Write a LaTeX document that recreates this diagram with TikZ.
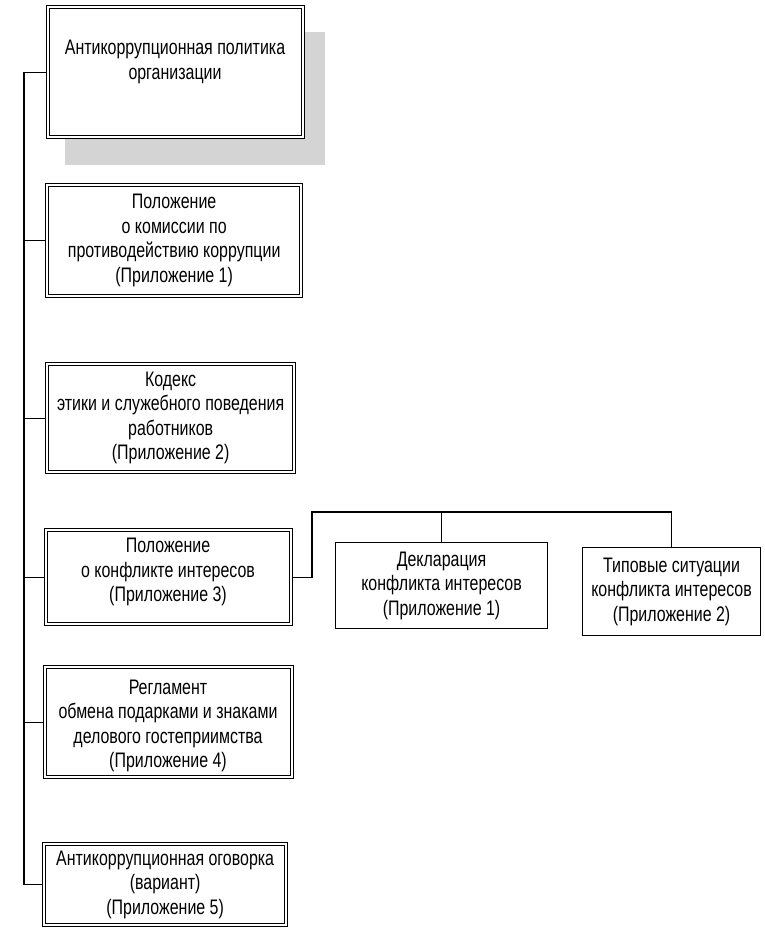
\documentclass[tikz,border=0pt]{standalone}
\usepackage{fontspec}
\setmainfont[FakeStretch=0.76]{Liberation Sans}
\tikzset{
  dbox/.style={draw=black, line width=1.3pt, fill=white, anchor=north west, inner sep=0pt, align=center},
  sbox/.style={draw=black, line width=1.1pt, fill=white, anchor=north west, inner sep=0pt, align=center},
  inner/.style={draw=black, line width=0.9pt},
  txt/.style={align=center, inner sep=0pt, font=\fontsize{21}{24.5}\selectfont},
  conn/.style={draw=black, line width=1.1pt}
}
\begin{document}
\begin{tikzpicture}[x=1pt,y=-1pt]
\useasboundingbox (0,0) rectangle (764,930);
% shadow of first box
\fill[black!17] (65,32) rectangle (325,165);
% main boxes
\node[dbox, minimum width=258pt, minimum height=133pt] (b1) at (46,5) {};
\node[txt] (t1) at (175,62) {Антикоррупционная политика\\организации};
\node[dbox, txt, anchor=north west, minimum width=257pt, minimum height=114pt] (b2) at (45,183) {Положение\\о комиссии по\\противодействию коррупции\\(Приложение 1)};
\node[dbox, txt, anchor=north west, minimum width=250pt, minimum height=111pt] (b3) at (45,362) {Кодекс\\этики и служебного поведения\\работников\\(Приложение 2)};
\node[dbox, minimum width=248pt, minimum height=97pt] (b4) at (44,528) {};
\node[txt] (t4) at (168,572) {Положение\\о конфликте интересов\\(Приложение 3)};
\node[dbox, minimum width=250pt, minimum height=113pt] (b7) at (43,665) {};
\node[txt] (t7) at (168,726) {Регламент\\обмена подарками и знаками\\делового гостеприимства\\(Приложение 4)};
\node[dbox, txt, anchor=north west, minimum width=245pt, minimum height=84pt] (b8) at (42,842) {Антикоррупционная оговорка\\(вариант)\\(Приложение 5)};
% inner lines of the double borders
\foreach \b in {b1,b2,b3,b4,b7,b8}
  \draw[inner] ([shift={(3.5,3.5)}]\b.north west) rectangle ([shift={(-3.5,-3.5)}]\b.south east);
% sub boxes
\node[sbox, txt, anchor=north west, minimum width=212pt, minimum height=86pt] (b5) at (335,542) {Декларация\\конфликта интересов\\(Приложение 1)};
\node[sbox, txt, anchor=north west, minimum width=178pt, minimum height=88pt] (b6) at (582,547) {Типовые ситуации\\конфликта интересов\\(Приложение 2)};
% trunk
\coordinate (tr) at (24,0);
\coordinate (bend) at (312,512);
\draw[conn] (b1.west) -| (tr |- b8.west) -- (b8.west);
\draw[conn] (b2.west) -- (b2.west -| tr);
\draw[conn] (b3.west) -- (b3.west -| tr);
\draw[conn] (b4.west) -- (b4.west -| tr);
\draw[conn] (b7.west) -- (b7.west -| tr);
% branch to sub boxes
\draw[conn] (b4.east) -| (bend) -| (b6.north);
\draw[conn] (b5.north) -- (b5.north |- bend);
\end{tikzpicture}
\end{document}
